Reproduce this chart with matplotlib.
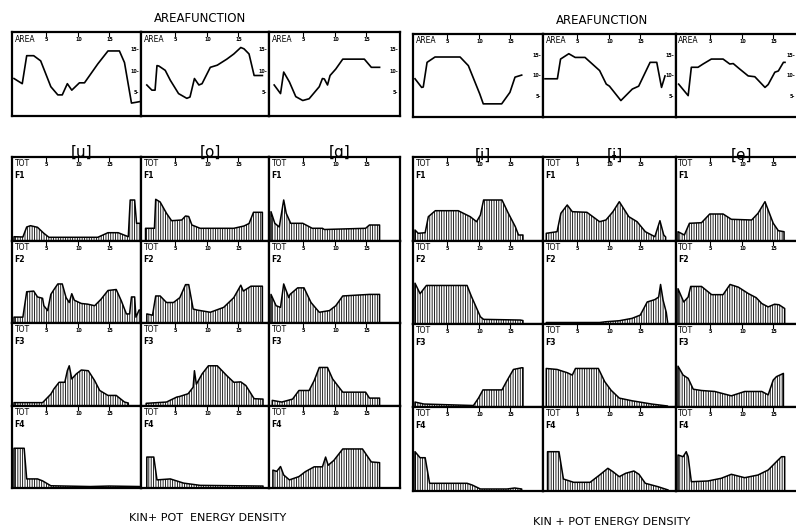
import matplotlib
matplotlib.use('Agg')
import matplotlib.pyplot as plt
from matplotlib.transforms import blended_transform_factory

plt.rcParams['font.family'] = 'DejaVu Sans'
plt.rcParams['hatch.linewidth'] = 0.6

# area functions: (distance from glottis in cm, area)
area_u = [(0, 8.3), (1.3, 7.1), (2.0, 13.6), (3.1, 13.6), (4.2, 12.4), (5.8, 6.4), (6.9, 4.5), (7.6, 4.5),
          (8.4, 7.1), (9.1, 5.6), (10.3, 7.3), (11.1, 7.3), (13.2, 11.7), (14.8, 14.7), (16.6, 14.7),
          (17.4, 12.0), (18.5, 2.6), (19.3, 2.8), (20.0, 3.0)]
area_o = [(0.6, 6.8), (1.4, 5.6), (1.9, 5.6), (2.2, 11.3), (2.5, 11.2), (3.5, 10.2), (4.3, 7.9), (5.6, 4.8),
          (6.9, 3.7), (7.4, 4.0), (8.1, 8.3), (8.8, 6.8), (9.3, 7.1), (10.6, 10.9), (11.7, 11.4), (13.2, 12.8),
          (14.3, 14.0), (15.4, 15.5), (15.9, 15.2), (16.7, 14.0), (17.5, 9.0), (18.8, 9.0)]
area_a = [(0.5, 6.8), (1.5, 4.8), (2.0, 9.8), (2.9, 7.5), (3.9, 4.1), (5.0, 3.2), (6.0, 3.6), (7.6, 6.4),
          (8.1, 8.3), (8.4, 8.2), (8.9, 6.8), (9.3, 9.0), (10.2, 10.5), (11.3, 12.8), (14.7, 12.8),
          (15.8, 10.9), (17.1, 10.9)]
area_i = [(0, 9.3), (1.05, 7.2), (1.3, 7.3), (1.9, 13.3), (3.15, 14.6), (7.1, 14.6), (8.4, 12.5), (10.2, 5.6),
          (10.75, 3.2), (13.65, 3.2), (14.95, 6.0), (15.75, 9.7), (16.8, 10.2)]
area_ih = [(0, 9.3), (1.95, 9.3), (2.45, 14.1), (3.75, 15.4), (4.75, 14.5), (6.3, 14.5), (8.6, 11.3),
           (9.65, 8.0), (10.15, 7.5), (11.95, 4.0), (13.75, 6.8), (14.75, 7.5), (16.55, 13.3), (17.6, 13.3),
           (18.35, 7.2), (18.9, 10.0)]
area_e = [(0.1, 8.0), (1.6, 5.2), (2.1, 12.1), (3.15, 12.1), (3.95, 12.9), (5.25, 14.1), (7.1, 14.1),
          (8.15, 12.9), (8.7, 13.0), (9.7, 11.7), (11.05, 10.0), (12.1, 9.8), (13.7, 7.2), (14.2, 7.9),
          (15.25, 10.9), (15.8, 11.2), (16.6, 13.3), (16.85, 13.3)]

# kinetic + potential energy density per formant (relative units)
u_f1 = [(0, 4.3), (1.4, 4.0), (2.0, 14.0), (2.6, 15.3), (3.7, 13.7), (4.7, 7.7), (5.5, 3.7), (13.2, 3.7),
        (14.8, 8.3), (16.4, 8.3), (18.0, 4.3), (18.3, 41.0), (19.0, 41.0), (19.3, 17.7), (20.0, 17.7)]
o_f1 = [(0.4, 12.7), (1.8, 12.7), (2.0, 41.7), (2.7, 39.0), (3.7, 27.7), (4.5, 20.3), (6.1, 21.0), (6.7, 25.0),
        (7.2, 24.5), (7.7, 16.0), (9.0, 12.7), (14.3, 12.7), (15.9, 15.0), (16.7, 17.5), (17.4, 28.7), (18.8, 28.7)]
a_f1 = [(0, 29.3), (0.6, 17.7), (1.3, 14.0), (2.0, 41.0), (2.4, 27.7), (3.1, 17.7), (5.0, 17.7), (6.5, 12.7),
        (8.1, 12.7), (8.4, 11.5), (14.9, 12.7), (15.5, 16.0), (17.1, 16.0)]
i_f1 = [(0, 11.0), (0.5, 7.7), (1.6, 8.3), (2.1, 24.3), (3.2, 30.3), (6.8, 30.3), (8.7, 24.3), (9.7, 19.3),
        (10.3, 26.0), (10.8, 41.0), (13.7, 41.0), (14.7, 27.7), (15.8, 14.3), (16.3, 6.0), (17.0, 6.0)]
ih_f1 = [(0.2, 7.7), (1.9, 9.3), (2.5, 27.7), (3.5, 36.0), (4.3, 29.3), (6.6, 28.7), (8.6, 19.3), (9.6, 21.0),
         (10.7, 29.3), (11.7, 39.3), (13.2, 24.3), (14.5, 19.3), (15.8, 9.3), (17.3, 4.3), (18.1, 20.3),
         (18.7, 6.0), (19.0, 4.0)]
e_f1 = [(0, 9.3), (1.0, 6.0), (1.8, 17.7), (3.7, 18.3), (5.0, 27.0), (7.1, 27.0), (8.4, 21.7), (11.6, 21.0),
        (12.6, 27.7), (13.7, 39.3), (15.0, 17.7), (15.8, 10.3), (16.7, 9.3)]

u_f2 = [(0, 6.0), (1.4, 6.0), (2.0, 32.0), (3.1, 32.7), (3.7, 26.7), (4.5, 25.3), (4.7, 17.7), (5.3, 12.7),
        (5.8, 29.3), (6.3, 34.3), (6.9, 40.0), (7.6, 40.0), (8.2, 26.0), (8.7, 21.0), (9.1, 30.0), (9.5, 23.3),
        (10.6, 20.0), (11.6, 19.3), (12.7, 17.7), (13.7, 24.3), (14.8, 33.3), (16.1, 34.3), (16.9, 22.7),
        (17.7, 9.3), (18.2, 9.3), (18.5, 26.7), (19.0, 26.7), (19.2, 6.0), (19.7, 13.3), (20.1, 13.3)]
o_f2 = [(0.6, 9.3), (1.5, 8.0), (2.0, 27.7), (2.7, 27.7), (3.7, 21.0), (4.8, 21.0), (5.8, 26.0), (6.7, 39.3),
        (7.2, 39.3), (7.9, 14.3), (8.5, 13.3), (10.6, 11.0), (12.7, 16.0), (14.3, 26.0), (15.4, 38.7),
        (15.8, 32.7), (17.0, 37.7), (18.8, 37.7)]
a_f2 = [(0, 29.3), (0.8, 17.7), (1.5, 16.0), (2.0, 40.0), (2.8, 26.0), (3.0, 29.3), (4.2, 36.0), (5.2, 36.0),
        (6.3, 21.0), (7.6, 11.0), (9.2, 12.7), (10.2, 17.7), (11.3, 27.7), (15.5, 29.3), (17.1, 29.3)]
i_f2 = [(0, 41.3), (0.8, 30.7), (1.8, 39.0), (8.2, 39.0), (8.9, 27.7), (10.3, 7.3), (10.8, 4.7), (16.6, 4.0),
        (17.0, 3.5)]
ih_f2 = [(0.2, 1.5), (8.6, 1.5), (9.6, 2.3), (11.7, 3.3), (13.7, 5.7), (15.0, 9.0), (16.1, 22.3), (17.3, 24.7),
         (17.9, 27.3), (18.2, 40.0), (18.6, 24.0), (19.1, 11.7), (19.3, 2.0)]
e_f2 = [(0, 35.7), (0.9, 22.3), (1.6, 27.3), (2.0, 38.0), (3.7, 38.0), (5.3, 29.7), (7.1, 29.7), (8.2, 40.0),
        (9.5, 37.3), (11.1, 30.7), (12.3, 26.7), (13.2, 20.7), (14.2, 17.3), (15.2, 20.0), (15.9, 19.5),
        (16.8, 15.7)]

u_f3 = [(0, 3.4), (4.5, 3.4), (5.8, 12.0), (6.3, 17.4), (7.1, 24.0), (8.0, 24.0), (8.4, 35.7), (8.7, 40.7),
        (9.1, 27.4), (9.8, 32.4), (10.6, 36.4), (11.7, 35.7), (12.7, 25.7), (13.5, 15.7), (14.8, 10.7),
        (16.1, 10.7), (17.4, 4.0), (18.0, 3.0)]
o_f3 = [(0.5, 2.7), (3.7, 4.0), (5.3, 9.0), (5.8, 9.7), (7.1, 12.4), (7.9, 19.0), (8.1, 35.7), (8.4, 22.0),
        (9.3, 32.4), (10.3, 40.7), (11.7, 40.7), (13.2, 30.7), (14.3, 24.0), (15.4, 24.4), (16.2, 20.7),
        (17.5, 7.4), (18.9, 7.0)]
a_f3 = [(0.2, 5.7), (1.7, 4.0), (3.4, 7.0), (4.4, 15.7), (6.0, 15.7), (6.8, 25.7), (7.6, 39.0), (8.9, 39.0),
        (9.7, 27.4), (11.3, 14.0), (14.9, 14.0), (15.5, 8.0), (17.1, 8.0)]
i_f3 = [(0, 5.0), (1.4, 3.0), (9.2, 1.5), (10.0, 9.0), (10.7, 17.3), (13.7, 17.3), (14.4, 25.7), (15.5, 38.0),
        (16.8, 39.7), (17.0, 39.7)]
ih_f3 = [(0.2, 39.0), (1.9, 38.0), (3.5, 34.7), (4.3, 32.3), (4.8, 39.0), (8.4, 39.0), (9.4, 25.7),
         (10.4, 17.0), (11.7, 9.0), (13.7, 6.3), (16.8, 3.0), (19.3, 1.0)]
e_f3 = [(0, 41.3), (0.8, 32.3), (1.6, 29.0), (2.4, 18.0), (3.7, 16.7), (5.8, 15.7), (8.4, 11.3), (10.5, 15.7),
        (13.2, 15.7), (14.2, 12.3), (15.0, 27.3), (15.5, 30.7), (16.6, 34.0)]

u_f4 = [(0, 40.7), (1.6, 40.7), (2.0, 9.3), (3.7, 9.3), (4.5, 7.3), (5.8, 2.3), (12.0, 1.5), (15.0, 2.0),
        (19.8, 1.5)]
o_f4 = [(0.6, 31.7), (1.7, 31.7), (2.2, 8.3), (4.3, 9.3), (6.4, 5.0), (9.0, 2.7), (18.9, 2.0)]
a_f4 = [(0.3, 18.3), (0.9, 17.0), (1.5, 22.0), (2.0, 13.3), (2.9, 8.3), (4.4, 11.7), (5.4, 16.7), (6.8, 21.7),
        (8.1, 21.7), (8.6, 31.7), (9.0, 23.3), (9.9, 28.3), (11.3, 40.0), (14.4, 40.0), (15.8, 26.7), (17.1, 26.0)]
i_f4 = [(0, 39.3), (0.8, 33.3), (1.6, 33.3), (2.3, 7.7), (8.2, 7.7), (9.0, 6.0), (10.3, 2.0), (14.5, 2.0),
        (15.7, 3.0), (16.8, 2.0)]
ih_f4 = [(0.4, 39.3), (2.2, 39.3), (2.9, 12.0), (4.5, 8.7), (7.1, 8.7), (8.6, 16.0), (9.9, 22.7), (10.7, 19.3),
         (11.7, 14.3), (12.7, 17.7), (14.0, 20.0), (14.8, 16.7), (15.8, 7.7), (17.8, 4.3), (19.4, 1.0)]
e_f4 = [(0, 36.0), (0.8, 34.3), (1.3, 39.3), (1.6, 34.3), (2.1, 9.3), (4.7, 10.0), (6.8, 12.7), (8.4, 16.7),
        (10.5, 13.3), (12.6, 16.0), (14.2, 21.0), (15.5, 29.3), (16.3, 34.3), (16.8, 34.3)]

left_vowels = ['[u]', '[o]', '[ɑ]']
right_vowels = ['[i]', '[ɨ]', '[e]']
formants = ['F1', 'F2', 'F3', 'F4']
x_ticks = [5, 10, 15]
area_ticks = [5, 10, 15]

left_area = [area_u, area_o, area_a]
right_area = [area_i, area_ih, area_e]
left_energy = [[u_f1, o_f1, a_f1], [u_f2, o_f2, a_f2], [u_f3, o_f3, a_f3], [u_f4, o_f4, a_f4]]
right_energy = [[i_f1, ih_f1, e_f1], [i_f2, ih_f2, e_f2], [i_f3, ih_f3, e_f3], [i_f4, ih_f4, e_f4]]

W, H = 796, 530
fig = plt.figure(figsize=(W / 100, H / 100), dpi=100)
PX_PER_CM = 6.35


def px_axes(x0, x1, y0, y1):
    ax = fig.add_axes([x0 / W, 1 - y1 / H, (x1 - x0) / W, (y1 - y0) / H])
    ax.set_xlim(-2 / PX_PER_CM, (x1 - x0 - 2) / PX_PER_CM)
    ax.set_xticks([])
    ax.set_yticks([])
    for s in ax.spines.values():
        s.set_linewidth(1.6)
    # little tick marks + labels along the top
    trans = blended_transform_factory(ax.transData, ax.transAxes)
    for t in x_ticks:
        ax.plot([t, t], [1.0, 0.95], color='black', lw=0.8, transform=trans)
        ax.text(t + 0.15, 0.94, str(t), transform=trans, fontsize=3.5, fontweight='bold',
                ha='center', va='top')
    return ax


def draw_area(ax, pts, ylim):
    ax.set_ylim(*ylim)
    xs = [p[0] for p in pts]
    ys = [p[1] for p in pts]
    ax.plot(xs, ys, color='black', lw=1.2)
    ax.text(0.02, 0.97, 'AREA', transform=ax.transAxes, fontsize=5.5, va='top', ha='left')
    trans = blended_transform_factory(ax.transAxes, ax.transData)
    for t in area_ticks:
        ax.text(0.985, t, f'{t}-', transform=trans, fontsize=3.5, fontweight='bold', ha='right', va='center')


def draw_energy(ax, pts, formant):
    ax.set_ylim(0, 84)
    xs = [p[0] for p in pts]
    ys = [p[1] for p in pts]
    ax.fill_between(xs, 0, ys, facecolor='white', edgecolor='black', hatch='|||||||', linewidth=0)
    ax.plot([xs[0]] + xs + [xs[-1]], [0] + ys + [0], color='black', lw=1.1)
    ax.text(0.02, 0.98, 'TOT', transform=ax.transAxes, fontsize=5.5, va='top', ha='left')
    ax.text(0.02, 0.78, formant, transform=ax.transAxes, fontsize=5.5, fontweight='bold', va='center', ha='left')


def draw_panel(cols, area_rows, energy_rows, area_data, energy_data, area_ylim, vowels, label_y,
               title_xy, caption, caption_xy, open_right):
    for j, (x0, x1) in enumerate(cols):
        ax = px_axes(x0, x1, area_rows[0], area_rows[1])
        draw_area(ax, area_data[j], area_ylim)
        if open_right and j == len(cols) - 1:
            ax.spines['right'].set_visible(False)
        fig.text(((x0 + x1) / 2 + 5) / W, 1 - label_y / H, vowels[j], fontsize=11, ha='center', va='center')
        for r in range(4):
            ax = px_axes(x0, x1, energy_rows[r], energy_rows[r + 1])
            draw_energy(ax, energy_data[r][j], formants[r])
            if open_right and j == len(cols) - 1:
                ax.spines['right'].set_visible(False)
    fig.text(title_xy[0] / W, 1 - title_xy[1] / H, 'AREAFUNCTION', fontsize=8.5, ha='center', va='center')
    fig.text(caption_xy[0] / W, 1 - caption_xy[1] / H, caption, fontsize=8, ha='center', va='center')


draw_panel([(12, 141), (141, 269), (269, 400)], (32, 116), [157, 241, 323, 406, 488],
           left_area, left_energy, (-0.4, 19.1), left_vowels, 152,
           (200, 18), 'KIN+ POT  ENERGY DENSITY', (208, 518), False)
draw_panel([(413, 543), (543, 676), (676, 797)], (34, 117), [157, 241, 324, 407, 491],
           right_area, right_energy, (0, 20.2), right_vowels, 155,
           (602, 21), 'KIN + POT ENERGY DENSITY', (612, 522), True)

fig.savefig('out.png', dpi=100, facecolor='white')
